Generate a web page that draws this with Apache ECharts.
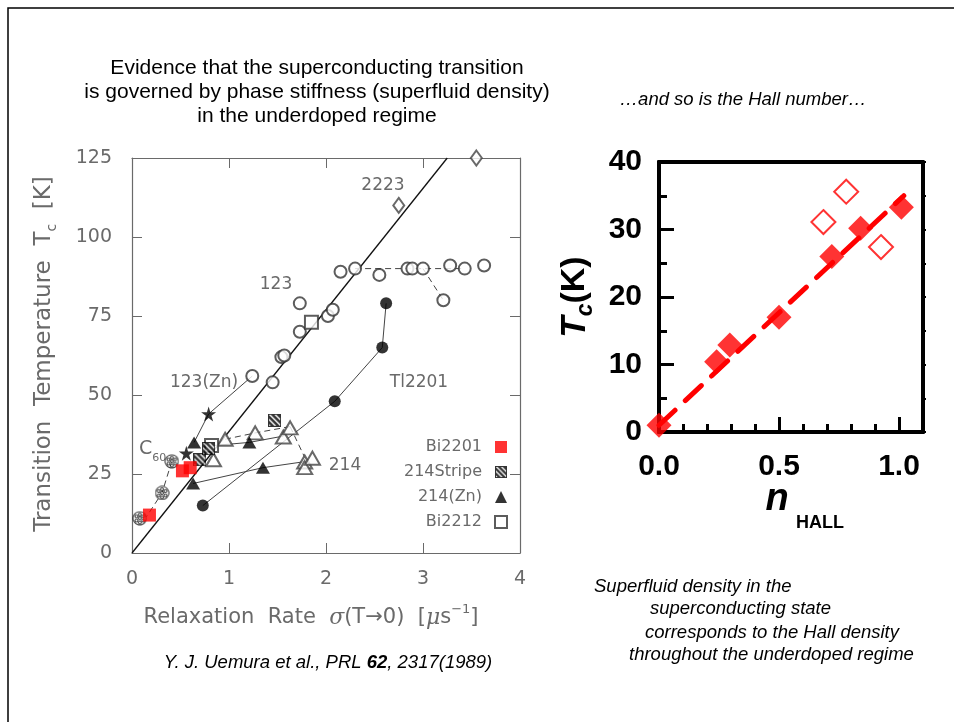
<!DOCTYPE html>
<html>
<head>
<meta charset="utf-8">
<script src="https://cdn.jsdelivr.net/npm/echarts@6/dist/echarts.min.js"></script>
<style>
  html, body { margin: 0; padding: 0; background: #fff; }
  #main { width: 954px; height: 722px; }
</style>
</head>
<body>
<div id="main"></div>
<script>
// ---- left panel: Uemura plot (sigma in us^-1, Tc in K) ----
const pts2223 = [[2.75, 110], [3.55, 125]];
const pts123 = [[1.24, 56], [1.45, 54], [1.54, 62], [1.57, 62.5], [1.73, 70], [1.73, 79],
  [2.02, 75], [2.07, 77], [2.15, 89], [2.30, 90], [2.55, 88], [2.84, 90], [2.89, 90],
  [3.00, 90], [3.21, 80], [3.28, 91], [3.43, 90], [3.63, 91]];
const ptsBi2212 = [[0.82, 34], [1.85, 73]];
const ptsStripe = [[0.70, 29.5], [0.79, 33], [1.47, 42]];
const pts214Zn = [[0.64, 35], [1.21, 35], [1.35, 27], [0.63, 22]];
const pts214 = [[0.84, 29.5], [0.96, 36], [1.27, 38], [1.56, 36.7], [1.63, 39.6],
  [1.78, 28.8], [1.78, 27], [1.86, 30]];
const pts123Zn = [[0.79, 44], [0.56, 31.6]];
const ptsTl2201 = [[0.73, 15], [2.09, 48], [2.58, 65], [2.62, 79]];
const ptsC60 = [[0.41, 29], [0.31, 19], [0.08, 11]];
const ptsBi2201 = [[0.18, 12], [0.52, 26], [0.60, 27]];

const lineUniversal = [[0, 0], [3.25, 125]];
const line123a = [[2.30, 90], [3.43, 90]];
const line123b = [[3.00, 90], [3.21, 80]];
const line123Zn = [[1.24, 56], [0.79, 44], [0.64, 35]];
const line214ZnA = [[0.63, 22], [1.35, 27], [1.80, 29]];
const line214ZnB = [[0.84, 34], [1.21, 35], [1.56, 37]];
const line214a = [[0.96, 36], [1.27, 38], [1.63, 40]];
const line214b = [[1.63, 40], [1.80, 29]];
const lineC60 = [[0.41, 29], [0.31, 19], [0.15, 11.5]];

// ---- right panel: Tc vs n_HALL ----
const nFilled = [0.0, 0.24, 0.295, 0.50, 0.72, 0.84, 1.01];
const tcFilled = [1, 10.4, 12.9, 17, 26, 30.2, 33.3];
const nOpen = [0.685, 0.78, 0.925];
const tcOpen = [31.1, 35.6, 27.4];
const fitLine = [[0, 1], [1.02, 35]];

const GRAY = '#6a6a6a';
const THIN = "'DejaVu Sans', sans-serif";
const ARIAL = "'Liberation Sans', Arial, sans-serif";

function hatchIcon() {
  let c = document.createElement('canvas');
  c.width = 26; c.height = 26;
  let g = c.getContext('2d');
  g.fillStyle = '#fff'; g.fillRect(0, 0, 26, 26);
  g.save();
  g.beginPath(); g.rect(0, 0, 26, 26); g.clip();
  g.strokeStyle = '#000'; g.lineWidth = 5;
  for (let k = -26; k <= 26; k += 11) {
    g.beginPath(); g.moveTo(k, 0); g.lineTo(k + 26, 26); g.stroke();
  }
  g.restore();
  g.strokeStyle = '#000'; g.lineWidth = 2; g.strokeRect(1, 1, 24, 24);
  return 'image://' + c.toDataURL();
}

function buckyIcon() {
  let c = document.createElement('canvas');
  c.width = 32; c.height = 32;
  let g = c.getContext('2d');
  g.fillStyle = '#fff';
  g.beginPath(); g.arc(16, 16, 14, 0, Math.PI * 2); g.fill();
  g.strokeStyle = '#111'; g.lineWidth = 2.2;
  g.stroke();
  g.lineWidth = 2;
  let cells = [[16, 16], [9, 12], [23, 12], [9, 21], [23, 21], [16, 8], [16, 25]];
  for (let p of cells) {
    g.beginPath();
    for (let a = 0; a < 6; a++) {
      let t = a * Math.PI / 3;
      let x = p[0] + 3.2 * Math.cos(t), y = p[1] + 3.2 * Math.sin(t);
      if (a === 0) g.moveTo(x, y); else g.lineTo(x, y);
    }
    g.closePath(); g.stroke();
  }
  return 'image://' + c.toDataURL();
}

const STAR = 'path://M50,0 L61,35 L98,35 L68,57 L79,91 L50,70 L21,91 L32,57 L2,35 L39,35 Z';

function thinLine(name, data, dashed) {
  return {
    name: name, type: 'line', xAxisIndex: 0, yAxisIndex: 0, data: data,
    symbol: 'none', silent: true, z: 1,
    lineStyle: {color: '#444', width: 1, type: dashed ? [6, 4] : 'solid'}
  };
}

function leftScatter(name, data, symbol, size, style) {
  return {
    name: name, type: 'scatter', xAxisIndex: 0, yAxisIndex: 0, data: data,
    symbol: symbol, symbolSize: size, z: 3,
    itemStyle: style
  };
}

let chart = echarts.init(document.getElementById('main'));

let leftTick = {show: true, inside: true, length: 10, lineStyle: {color: GRAY, width: 1}};
let leftLine = {show: true, onZero: false, lineStyle: {color: GRAY, width: 1.2}};
let rightLine = {show: true, onZero: false, lineStyle: {color: '#000', width: 4}};
let boldLabel = {fontFamily: ARIAL, fontWeight: 'bold', fontSize: 30, color: '#000'};

let option = {
  backgroundColor: '#fff',
  animation: false,
  grid: [
    {left: 132, top: 158, width: 388, height: 395},
    {left: 659, top: 162, width: 264, height: 270}
  ],
  xAxis: [
    {gridIndex: 0, type: 'value', position: 'bottom', min: 0, max: 4, interval: 1,
      axisLine: leftLine, axisTick: leftTick, splitLine: {show: false},
      axisLabel: {color: GRAY, fontFamily: THIN, fontSize: 19, margin: 17}},
    {gridIndex: 0, type: 'value', position: 'top', min: 0, max: 4, interval: 1,
      axisLine: leftLine, axisTick: leftTick, splitLine: {show: false},
      axisLabel: {show: false}},
    {gridIndex: 1, type: 'value', position: 'bottom', min: 0, max: 1.1, interval: 0.1,
      axisLine: rightLine, splitLine: {show: false},
      axisTick: {show: true, inside: true, length: 8, lineStyle: {color: '#000', width: 3}},
      axisLabel: Object.assign({margin: 20, showMaxLabel: false,
        formatter: v => (Math.abs(v * 2 - Math.round(v * 2)) < 1e-6 && v < 1.05) ? v.toFixed(1) : ''}, boldLabel)},
    {gridIndex: 1, type: 'value', position: 'bottom', min: 0, max: 1.1, interval: 0.5,
      axisLine: rightLine, splitLine: {show: false},
      axisTick: {show: true, inside: true, length: 15, lineStyle: {color: '#000', width: 3}},
      axisLabel: {show: false}},
    {gridIndex: 1, type: 'value', position: 'top', min: 0, max: 1.1,
      axisLine: rightLine, axisTick: {show: false}, axisLabel: {show: false}, splitLine: {show: false}}
  ],
  yAxis: [
    {gridIndex: 0, type: 'value', position: 'left', min: 0, max: 125, interval: 25,
      axisLine: leftLine, axisTick: leftTick, splitLine: {show: false},
      axisLabel: {color: GRAY, fontFamily: THIN, fontSize: 19, margin: 20}},
    {gridIndex: 0, type: 'value', position: 'right', min: 0, max: 125, interval: 25,
      axisLine: leftLine, axisTick: leftTick, splitLine: {show: false},
      axisLabel: {show: false}},
    {gridIndex: 1, type: 'value', position: 'left', min: 0, max: 40, interval: 5,
      axisLine: rightLine, splitLine: {show: false},
      axisTick: {show: true, inside: true, length: 8, lineStyle: {color: '#000', width: 3}},
      axisLabel: Object.assign({margin: 17, formatter: v => (v % 10 === 0 ? String(v) : '')}, boldLabel)},
    {gridIndex: 1, type: 'value', position: 'left', min: 0, max: 40, interval: 10,
      axisLine: rightLine, splitLine: {show: false},
      axisTick: {show: true, inside: true, length: 15, lineStyle: {color: '#000', width: 3}},
      axisLabel: {show: false}},
    {gridIndex: 1, type: 'value', position: 'right', min: 0, max: 40, interval: 5,
      axisLine: rightLine, splitLine: {show: false},
      axisTick: {show: true, inside: false, length: 3, lineStyle: {color: '#000', width: 2}},
      axisLabel: {show: false}}
  ],
  legend: {
    data: ['Bi2201', '214Stripe', '214(Zn)', 'Bi2212'],
    orient: 'vertical', align: 'right', right: 441, top: 434,
    itemWidth: 12, itemHeight: 12, itemGap: 9,
    textStyle: {color: GRAY, fontFamily: THIN, fontSize: 16, lineHeight: 16, padding: [0, 8, 0, 0]},
    selectedMode: false
  },
  series: [
    {name: 'universal', type: 'line', xAxisIndex: 0, yAxisIndex: 0, data: lineUniversal,
      symbol: 'none', silent: true, z: 1, lineStyle: {color: '#111', width: 1.3}},
    thinLine('l123a', line123a, true),
    thinLine('l123b', line123b, true),
    thinLine('l123Zn', line123Zn, false),
    thinLine('l214ZnA', line214ZnA, false),
    thinLine('l214ZnB', line214ZnB, false),
    thinLine('l214a', line214a, true),
    thinLine('l214b', line214b, true),
    thinLine('lC60', lineC60, true),
    thinLine('lTl2201', ptsTl2201, false),
    leftScatter('2223', pts2223, 'emptyDiamond', [11, 15], {color: '#444', borderWidth: 1}),
    leftScatter('123', pts123, 'emptyCircle', 12, {color: '#333', borderWidth: 1}),
    leftScatter('214', pts214, 'emptyTriangle', [15, 13], {color: '#444', borderWidth: 1}),
    leftScatter('Bi2212', ptsBi2212, 'emptyRect', 13, {color: '#333', borderWidth: 1}),
    leftScatter('214Stripe', ptsStripe, hatchIcon(), 13, {color: '#000'}),
    leftScatter('214(Zn)', pts214Zn, 'triangle', [14, 12], {color: '#000'}),
    leftScatter('123(Zn)', pts123Zn, STAR, 15, {color: '#000'}),
    leftScatter('Tl2201', ptsTl2201, 'circle', 12, {color: '#000'}),
    leftScatter('C60', ptsC60, buckyIcon(), 15, {color: '#333'}),
    leftScatter('Bi2201', ptsBi2201, 'rect', 13, {color: '#ff0000'}),

    {name: 'fit', type: 'line', xAxisIndex: 2, yAxisIndex: 2, data: fitLine,
      symbol: 'none', silent: true, z: 2,
      lineStyle: {color: '#ff0000', width: 5, type: [22, 14], cap: 'round'}},
    {name: 'filled', type: 'scatter', xAxisIndex: 2, yAxisIndex: 2,
      data: nFilled.map((n, i) => [n, tcFilled[i]]),
      symbol: 'diamond', symbolSize: 25, z: 3, itemStyle: {color: '#ff0000'}},
    {name: 'open', type: 'scatter', xAxisIndex: 2, yAxisIndex: 2,
      data: nOpen.map((n, i) => [n, tcOpen[i]]),
      symbol: 'emptyDiamond', symbolSize: 24, z: 3,
      itemStyle: {color: '#ff0000', borderWidth: 3}}
  ],
  graphic: [
    {type: 'rect', shape: {x: 8, y: 8, width: 980, height: 760}, silent: true,
      style: {fill: 'none', stroke: '#000', lineWidth: 1.5}},
    {type: 'text', x: 317, y: 92, silent: true,
      style: {text: 'Evidence that the superconducting transition\nis governed by phase stiffness (superfluid density)\nin the underdoped regime',
        align: 'center', verticalAlign: 'middle', fontFamily: ARIAL, fontSize: 21, lineHeight: 24, fill: '#000'}},
    {type: 'text', x: 743, y: 100, silent: true,
      style: {text: '\u2026and so is the Hall number\u2026', align: 'center', verticalAlign: 'middle',
        fontFamily: ARIAL, fontStyle: 'italic', fontSize: 18.5, fill: '#000'}},
    {type: 'text', x: 328, y: 663, silent: true,
      style: {text: '{a|Y. J. Uemura et al., PRL }{b|62}{a|, 2317(1989)}', align: 'center', verticalAlign: 'middle',
        rich: {a: {fontFamily: ARIAL, fontStyle: 'italic', fontSize: 18.5, fill: '#000'},
               b: {fontFamily: ARIAL, fontStyle: 'italic', fontWeight: 'bold', fontSize: 18.5, fill: '#000'}}}},
    {type: 'text', x: 594, y: 587, silent: true,
      style: {text: 'Superfluid density in the', verticalAlign: 'middle', fontFamily: ARIAL, fontStyle: 'italic', fontSize: 18.5, fill: '#000'}},
    {type: 'text', x: 650, y: 609, silent: true,
      style: {text: 'superconducting state', verticalAlign: 'middle', fontFamily: ARIAL, fontStyle: 'italic', fontSize: 18.5, fill: '#000'}},
    {type: 'text', x: 645, y: 633, silent: true,
      style: {text: 'corresponds to the Hall density', verticalAlign: 'middle', fontFamily: ARIAL, fontStyle: 'italic', fontSize: 18.5, fill: '#000'}},
    {type: 'text', x: 629, y: 655, silent: true,
      style: {text: 'throughout the underdoped regime', verticalAlign: 'middle', fontFamily: ARIAL, fontStyle: 'italic', fontSize: 18.5, fill: '#000'}},

    // left panel axis names and annotations
    {type: 'text', x: 44, y: 354, rotation: Math.PI / 2, silent: true,
      style: {text: '{a|Transition  Temperature  T}{s|c}{a|  [K]}', align: 'center', verticalAlign: 'middle',
        rich: {a: {fontFamily: THIN, fontSize: 23, lineHeight: 30, fill: GRAY},
               s: {fontFamily: THIN, fontSize: 14, lineHeight: 30, verticalAlign: 'bottom', fill: GRAY}}}},
    {type: 'text', x: 311, y: 618, silent: true,
      style: {text: '{a|Relaxation  Rate  }{i|\u03c3}{a|(T\u21920)  [}{i|\u03bc}{a|s}{p|\u22121}{a|]}', align: 'center', verticalAlign: 'middle',
        rich: {a: {fontFamily: THIN, fontSize: 21, lineHeight: 30, fill: GRAY},
               i: {fontFamily: 'DejaVu Serif, serif', fontStyle: 'italic', fontSize: 22, lineHeight: 30, fill: GRAY},
               p: {fontFamily: THIN, fontSize: 13, lineHeight: 30, verticalAlign: 'top', fill: GRAY}}}},
    {type: 'text', x: 383, y: 186, silent: true,
      style: {text: '2223', align: 'center', verticalAlign: 'middle', fontFamily: THIN, fontSize: 17, fill: GRAY}},
    {type: 'text', x: 276, y: 285, silent: true,
      style: {text: '123', align: 'center', verticalAlign: 'middle', fontFamily: THIN, fontSize: 17, fill: GRAY}},
    {type: 'text', x: 204, y: 383, silent: true,
      style: {text: '123(Zn)', align: 'center', verticalAlign: 'middle', fontFamily: THIN, fontSize: 17, fill: GRAY}},
    {type: 'text', x: 419, y: 383, silent: true,
      style: {text: 'Tl2201', align: 'center', verticalAlign: 'middle', fontFamily: THIN, fontSize: 17, fill: GRAY}},
    {type: 'text', x: 345, y: 466, silent: true,
      style: {text: '214', align: 'center', verticalAlign: 'middle', fontFamily: THIN, fontSize: 17, fill: GRAY}},
    {type: 'text', x: 139, y: 449, silent: true,
      style: {text: '{a|C}{s|60}', verticalAlign: 'middle',
        rich: {a: {fontFamily: THIN, fontSize: 19, lineHeight: 30, fill: GRAY},
               s: {fontFamily: THIN, fontSize: 11, lineHeight: 30, verticalAlign: 'bottom', fill: GRAY}}}},

    // right panel axis names
    {type: 'text', x: 575, y: 297, rotation: Math.PI / 2, silent: true,
      style: {text: '{t|T}{s|c}{k|(K)}', align: 'center', verticalAlign: 'middle',
        rich: {t: {fontFamily: ARIAL, fontWeight: 'bold', fontStyle: 'italic', fontSize: 35, lineHeight: 44, fill: '#000'},
               s: {fontFamily: ARIAL, fontWeight: 'bold', fontStyle: 'italic', fontSize: 23, lineHeight: 44, verticalAlign: 'bottom', fill: '#000'},
               k: {fontFamily: ARIAL, fontWeight: 'bold', fontSize: 34, lineHeight: 44, fill: '#000'}}}},
    {type: 'text', x: 777, y: 500, silent: true,
      style: {text: 'n', align: 'center', verticalAlign: 'middle', fontFamily: ARIAL, fontWeight: 'bold', fontStyle: 'italic', fontSize: 38, fill: '#000'}},
    {type: 'text', x: 820, y: 523, silent: true,
      style: {text: 'HALL', align: 'center', verticalAlign: 'middle', fontFamily: ARIAL, fontWeight: 'bold', fontSize: 18, fill: '#000'}}
  ]
};

chart.setOption(option);
</script>
</body>
</html>
